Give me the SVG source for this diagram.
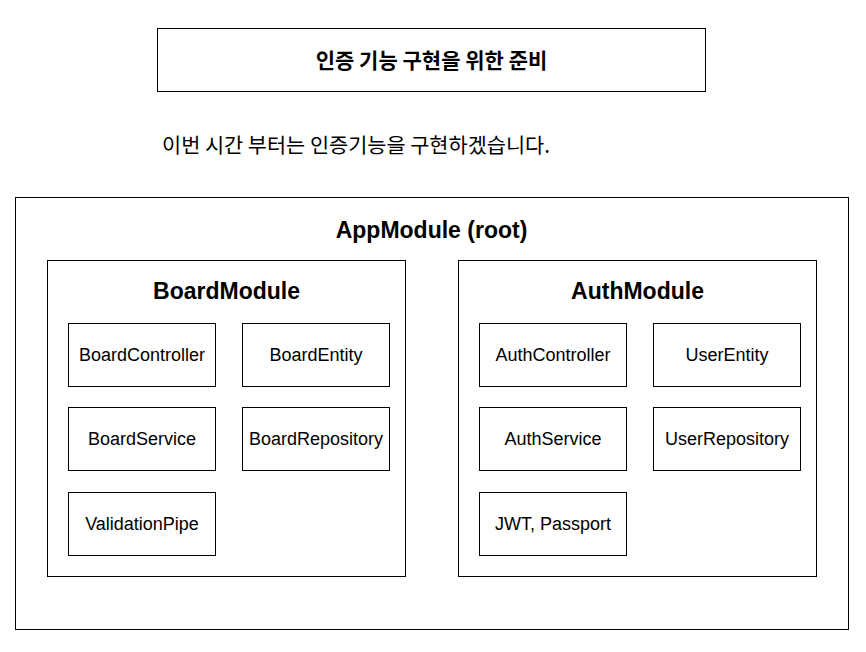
<svg xmlns="http://www.w3.org/2000/svg" width="866" height="652" viewBox="0 0 866 652">
<style>
.box{fill:#fff;stroke:#000;stroke-width:1}
.t{font-family:"Liberation Sans",Arial,sans-serif;font-size:18px;fill:#000;text-anchor:middle;dominant-baseline:central}
.h{font-family:"Liberation Sans",Arial,sans-serif;font-size:23px;font-weight:bold;fill:#000;text-anchor:middle;dominant-baseline:central}
.k{font-family:"Noto Sans CJK KR",sans-serif;fill:#000}
</style>
<rect width="866" height="652" fill="#fff"/>
<g id="title">
<rect class="box" x="157.5" y="28.5" width="548" height="63"/>
<text class="k" x="431.5" y="59" font-size="21" font-weight="bold" text-anchor="middle" dominant-baseline="central">인증 기능 구현을 위한 준비</text>
</g>
<g id="subtitle">
<text class="k" x="162" y="153" font-size="20.8">이번 시간 부터는 인증기능을 구현하겠습니다.</text>
</g>
<g id="appmodule">
<rect class="box" x="15.5" y="197.5" width="833" height="432"/>
<text class="h" x="431.5" y="230">AppModule (root)</text>
</g>
<g id="boardmodule">
<rect class="box" x="47.5" y="260.5" width="358" height="316"/>
<text class="h" x="226.5" y="291">BoardModule</text>
</g>
<g id="boardcontroller"><rect class="box" x="68.5" y="323.5" width="147" height="63"/><text class="t" x="142" y="355">BoardController</text></g>
<g id="boardentity"><rect class="box" x="242.5" y="323.5" width="147" height="63"/><text class="t" x="316" y="355">BoardEntity</text></g>
<g id="boardservice"><rect class="box" x="68.5" y="407.5" width="147" height="63"/><text class="t" x="142" y="439">BoardService</text></g>
<g id="boardrepository"><rect class="box" x="242.5" y="407.5" width="147" height="63"/><text class="t" x="316" y="439">BoardRepository</text></g>
<g id="validationpipe"><rect class="box" x="68.5" y="492.5" width="147" height="63"/><text class="t" x="142" y="524">ValidationPipe</text></g>
<g id="authmodule">
<rect class="box" x="458.5" y="260.5" width="358" height="316"/>
<text class="h" x="637.5" y="291">AuthModule</text>
</g>
<g id="authcontroller"><rect class="box" x="479.5" y="323.5" width="147" height="63"/><text class="t" x="553" y="355">AuthController</text></g>
<g id="userentity"><rect class="box" x="653.5" y="323.5" width="147" height="63"/><text class="t" x="727" y="355">UserEntity</text></g>
<g id="authservice"><rect class="box" x="479.5" y="407.5" width="147" height="63"/><text class="t" x="553" y="439">AuthService</text></g>
<g id="userrepository"><rect class="box" x="653.5" y="407.5" width="147" height="63"/><text class="t" x="727" y="439">UserRepository</text></g>
<g id="jwtpassport"><rect class="box" x="479.5" y="492.5" width="147" height="63"/><text class="t" x="553" y="524">JWT, Passport</text></g>
<g id="connectors"/>
</svg>
